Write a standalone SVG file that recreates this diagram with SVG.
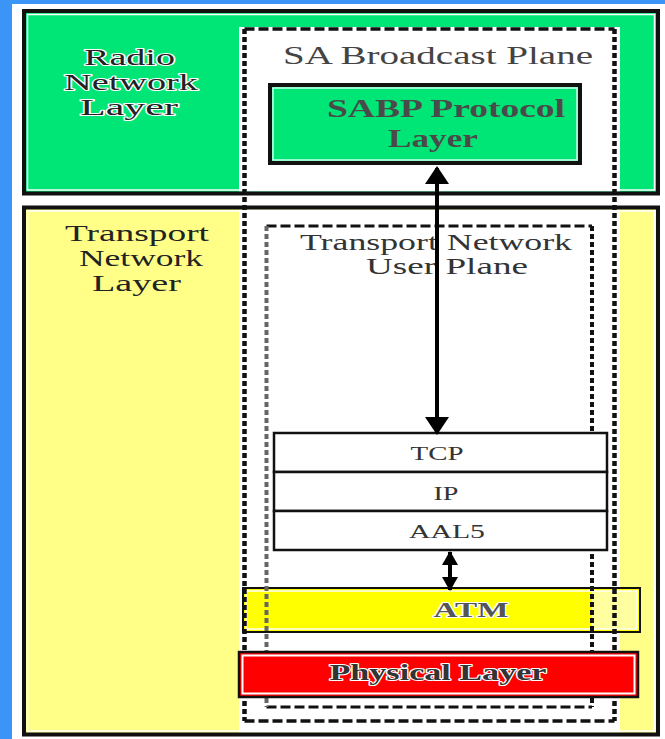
<svg xmlns="http://www.w3.org/2000/svg" width="665" height="739" viewBox="0 0 665 739">
<style>
text{font-family:"Liberation Serif","Times New Roman",serif;text-anchor:middle}
.halo{stroke:#fff;stroke-width:2;paint-order:stroke;stroke-linejoin:round}
.big{font-size:23px;fill:#222}
.plane{font-size:26px;fill:#444}
.sub{font-size:23px;fill:#333}
.stack{font-size:18px;fill:#333}
.frame{fill:none;stroke:#111;stroke-width:4}
.inner{fill:none;stroke:#fff;stroke-width:1.5}
.box{stroke:#111;stroke-width:2.5}
.dv{fill:none;stroke:#111;stroke-width:4.5;stroke-dasharray:5 3}
.dh{fill:none;stroke:#111;stroke-width:3.5;stroke-dasharray:10 4}
.conn{fill:none;stroke:#000;stroke-width:4}
</style>
<defs>
<marker id="head" viewBox="0 0 18 24" refX="16" refY="12" markerWidth="18" markerHeight="24" markerUnits="userSpaceOnUse" orient="auto-start-reverse">
<path d="M0,0 L18,12 L0,24 Z" fill="#000"/>
</marker>
<marker id="headS" viewBox="0 0 14 16" refX="13" refY="8" markerWidth="14" markerHeight="16" markerUnits="userSpaceOnUse" orient="auto-start-reverse">
<path d="M0,0 L14,8 L0,16 Z" fill="#000"/>
</marker>
</defs>

<rect x="0" y="0" width="665" height="739" fill="#3b95f7"/>
<rect x="12" y="4" width="653" height="735" fill="#fff"/>

<g id="radio-network-layer">
<rect x="24" y="11" width="634" height="182.5" fill="#00e676"/>
<rect x="239" y="27" width="381" height="164.5" fill="#fff"/>
<rect x="27.5" y="14.5" width="627" height="175.5" class="inner"/>
<rect x="24" y="11" width="634" height="182.5" class="frame"/>
<text class="big halo" x="129.5" y="65" textLength="91" lengthAdjust="spacingAndGlyphs">Radio</text>
<text class="big halo" x="131" y="90" textLength="134" lengthAdjust="spacingAndGlyphs">Network</text>
<text class="big halo" x="129" y="115" textLength="98" lengthAdjust="spacingAndGlyphs">Layer</text>
</g>

<g id="transport-network-layer">
<rect x="24" y="207.5" width="634" height="527" fill="#ffff88"/>
<rect x="239" y="209.5" width="381" height="523" fill="#fff"/>
<rect x="27.5" y="211" width="627" height="520" class="inner"/>
<rect x="24" y="207.5" width="634" height="527" class="frame"/>
<text class="big" x="137" y="241" textLength="144" lengthAdjust="spacingAndGlyphs">Transport</text>
<text class="big" x="141" y="266" textLength="124" lengthAdjust="spacingAndGlyphs">Network</text>
<text class="big" x="136.5" y="291" textLength="89" lengthAdjust="spacingAndGlyphs">Layer</text>
</g>

<g id="sabp-protocol-layer">
<rect x="270" y="85" width="310" height="78" fill="#00e676" class="box" style="stroke-width:4"/>
<rect x="273" y="88" width="304" height="72" class="inner" style="stroke:#cfe"/>
<text x="446" y="117" font-size="26" font-weight="bold" fill="#4a4a4a" textLength="238" lengthAdjust="spacingAndGlyphs">SABP Protocol</text>
<text x="433" y="147" font-size="26" font-weight="bold" fill="#4a4a4a" textLength="90" lengthAdjust="spacingAndGlyphs">Layer</text>
</g>

<g id="atm">
<rect x="243" y="588" width="397" height="44" fill="#ffff00" class="box" style="stroke-width:2"/>
<rect x="592" y="591" width="45" height="38" fill="#ffffa0"/>
<rect x="246" y="591" width="391" height="38" class="inner"/>
<text x="471" y="617" font-size="21" font-weight="bold" fill="#555" class="halo" textLength="75" lengthAdjust="spacingAndGlyphs">ATM</text>
</g>

<g id="sa-broadcast-plane">
<path class="dh" d="M244.5,29 H614.5 M244.5,721 H614.5"/>
<path class="dv" d="M244.5,29 V721 M614.5,29 V721"/>
<text class="plane" x="438" y="64" textLength="310" lengthAdjust="spacingAndGlyphs">SA Broadcast Plane</text>
</g>

<g id="transport-network-user-plane">
<path class="dh" style="stroke-width:3" d="M266.5,226 H592 M266.5,707 H592"/>
<path class="dv" style="stroke:#666;stroke-width:4" d="M266.5,226 V707"/>
<path class="dv" style="stroke-width:4" d="M592,226 V707"/>
<text class="sub" x="436" y="250" textLength="272" lengthAdjust="spacingAndGlyphs">Transport Network</text>
<text class="sub" x="447" y="274" textLength="162" lengthAdjust="spacingAndGlyphs">User Plane</text>
</g>

<g id="physical-layer">
<rect x="239" y="652" width="399" height="45" fill="#ff0000" class="box" style="stroke-width:2.5"/>
<rect x="242.5" y="655.5" width="392" height="38" class="inner" style="stroke-width:2"/>
<text x="438" y="680" font-size="23" font-weight="bold" fill="#333" class="halo" textLength="217" lengthAdjust="spacingAndGlyphs">Physical Layer</text>
</g>

<g id="tcp">
<rect x="274" y="433" width="333" height="39" fill="#fff" class="box"/>
<text class="stack" x="437" y="460" textLength="53" lengthAdjust="spacingAndGlyphs">TCP</text>
</g>
<g id="ip">
<rect x="274" y="472" width="333" height="39" fill="#fff" class="box"/>
<text class="stack" x="446" y="500" textLength="25" lengthAdjust="spacingAndGlyphs">IP</text>
</g>
<g id="aal5">
<rect x="274" y="511" width="333" height="39" fill="#fff" class="box"/>
<text class="stack" x="447" y="538" textLength="76" lengthAdjust="spacingAndGlyphs">AAL5</text>
</g>

<g id="connectors">
<path class="conn" d="M437,168 V433" marker-start="url(#head)" marker-end="url(#head)"/>
<path class="conn" d="M450,552 V590" marker-start="url(#headS)" marker-end="url(#headS)"/>
</g>
</svg>
